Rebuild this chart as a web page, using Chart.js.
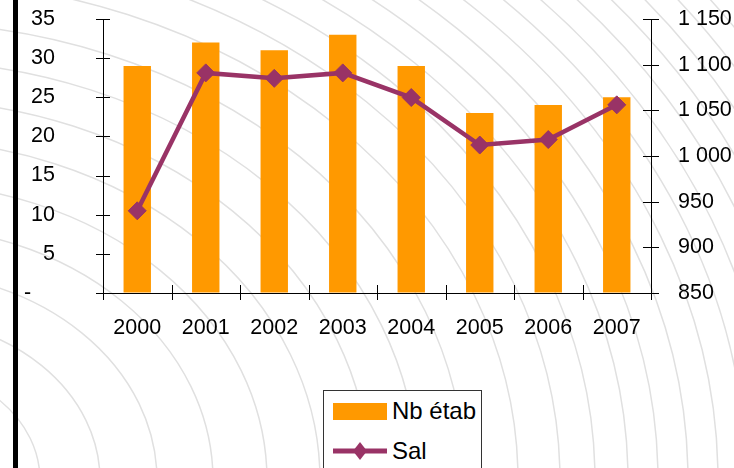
<!DOCTYPE html>
<html>
<head>
<meta charset="utf-8">
<script src="https://cdn.jsdelivr.net/npm/chart.js@4.4.1/dist/chart.umd.min.js"></script>
<style>
  html, body { margin: 0; padding: 0; background: #fff; overflow: hidden; }
  #wrap { position: relative; width: 734px; height: 468px; }
  #c { position: absolute; left: 0; top: 0; }
  #bar { position: absolute; left: 13px; top: 0; width: 5px; height: 468px; background: #000; }
  #legend { position: absolute; left: 323px; top: 390px; width: 157px; height: 100px;
            border: 1px solid #333; background: #fff; font-family: "Liberation Sans", Arial, sans-serif;
            font-size: 24px; color: #000; }
  .item { position: absolute; left: 9px; display: flex; align-items: center; height: 30px; }
  .item span { margin-left: 5px; }
</style>
</head>
<body>
<div id="wrap">
  <canvas id="c" width="734" height="468"></canvas>
  <div id="bar"></div>
  <div id="legend">
    <div class="item" style="top:5px"><svg width="54" height="17"><rect x="0" y="0" width="54" height="17" fill="#FF9900"/></svg><span>Nb étab</span></div>
    <div class="item" style="top:45px"><svg width="54" height="20"><line x1="0" y1="10" x2="54" y2="10" stroke="#993366" stroke-width="5"/><polygon points="27,1 34,10 27,19 20,10" fill="#993366"/></svg><span>Sal</span></div>
  </div>
</div>
<script>
const categories = ['2000', '2001', '2002', '2003', '2004', '2005', '2006', '2007'];
const nbEtab = [29, 32, 31, 33, 29, 23, 24, 25];
const sal = [940, 1091, 1085, 1091, 1064, 1012, 1018, 1056];
const leftTicks = [0, 5, 10, 15, 20, 25, 30, 35];
const rightTicks = [850, 900, 950, 1000, 1050, 1100, 1150];

const FONT = { family: '"Liberation Sans", Arial, sans-serif', size: 21.5 };

function fmtThousands(v) {
  if (v >= 1000) return Math.floor(v / 1000) + ' ' + String(v % 1000).padStart(3, '0');
  return String(v);
}

// decorative background swirl (not data)
const decoRadii = [30, 85, 140, 200, 257, 313, 367, 420, 470, 518, 565, 618, 660, 695, 728, 758, 788,
                   818, 846, 873, 900, 926, 952, 978, 1004, 1030];
const bgArcs = {
  id: 'bgArcs',
  beforeDraw(chart) {
    const ctx = chart.ctx;
    ctx.save();
    ctx.strokeStyle = '#e0e0e0';
    ctx.lineWidth = 1.5;
    decoRadii.forEach(rx => {
      ctx.beginPath();
      ctx.ellipse(-100, 480, rx, rx * 0.81, 0, 0, Math.PI * 2);
      ctx.stroke();
    });
    ctx.restore();
  }
};

const crossTicks = {
  id: 'crossTicks',
  afterDraw(chart) {
    const ctx = chart.ctx;
    const x = chart.scales.x, yL = chart.scales.y, yR = chart.scales.y1;
    ctx.save();
    ctx.strokeStyle = '#000';
    ctx.lineWidth = 1;
    ctx.beginPath();
    leftTicks.forEach(v => {
      const py = Math.round(yL.getPixelForValue(v)) + 0.5;
      ctx.moveTo(yL.right - 7, py); ctx.lineTo(yL.right + 7, py);
    });
    rightTicks.forEach(v => {
      const py = Math.round(yR.getPixelForValue(v)) + 0.5;
      ctx.moveTo(yR.left - 8, py); ctx.lineTo(yR.left + 8, py);
    });
    const n = categories.length;
    for (let i = 0; i <= n; i++) {
      const px = Math.round(x.left + i * (x.right - x.left) / n) + 0.5;
      ctx.moveTo(px, x.top - 8); ctx.lineTo(px, x.top + 7);
    }
    ctx.stroke();
    ctx.restore();
  }
};

const hiddenGrid = (len) => ({ display: true, drawOnChartArea: false, drawTicks: true, tickLength: len, tickColor: 'rgba(0,0,0,0)' });

new Chart(document.getElementById('c'), {
  data: {
    labels: categories,
    datasets: [
      {
        type: 'line', label: 'Sal', data: sal, yAxisID: 'y1',
        borderColor: '#993366', backgroundColor: '#993366', borderWidth: 4.5,
        pointStyle: 'rectRot', pointRadius: 9, pointBorderWidth: 1,
        pointBackgroundColor: '#993366', pointBorderColor: '#993366',
        tension: 0, order: 0
      },
      {
        type: 'bar', label: 'Nb étab', data: nbEtab, yAxisID: 'y',
        backgroundColor: '#FF9900', borderWidth: 0,
        categoryPercentage: 1, barPercentage: 0.4, order: 1
      }
    ]
  },
  options: {
    responsive: false,
    animation: false,
    devicePixelRatio: 1,
    layout: { padding: { top: 19, left: 0, right: 0, bottom: 0 } },
    plugins: { legend: { display: false }, tooltip: { enabled: false } },
    scales: {
      x: {
        offset: true,
        grid: hiddenGrid(22),
        border: { display: true, color: '#000', width: 1 },
        ticks: { color: '#000', font: FONT, padding: 0, maxRotation: 0 },
        afterFit(s) { s.height = 175; }
      },
      y: {
        position: 'left', min: 0, max: 35,
        grid: hiddenGrid(48),
        border: { display: true, color: '#000', width: 1 },
        ticks: {
          stepSize: 5, color: '#000', font: FONT, padding: 0,
          callback: v => (v === 0 ? '-    ' : String(v))
        },
        afterFit(s) { s.width = 103; }
      },
      y1: {
        position: 'right', min: 850, max: 1150,
        grid: hiddenGrid(27),
        border: { display: true, color: '#000', width: 1 },
        ticks: { stepSize: 50, color: '#000', font: FONT, padding: 0, callback: v => fmtThousands(v) },
        afterFit(s) { s.width = 83; }
      }
    }
  },
  plugins: [bgArcs, crossTicks]
});
</script>
</body>
</html>
